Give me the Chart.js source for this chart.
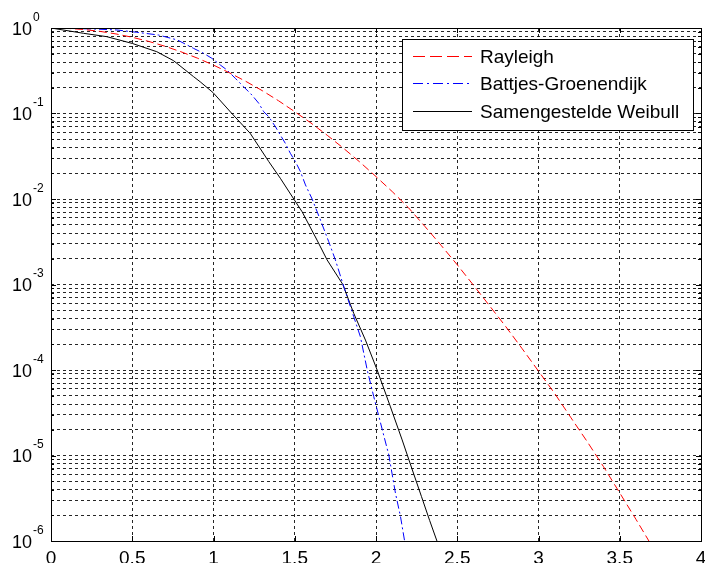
<!DOCTYPE html>
<html><head><meta charset="utf-8">
<script src="https://cdn.jsdelivr.net/npm/chart.js@4.4.0/dist/chart.umd.min.js"></script>
<style>html,body{margin:0;padding:0;background:#fff;overflow:hidden}canvas{display:block}</style>
</head><body>
<canvas id="c" width="705" height="563"></canvas>
<script>
// ---- data ----
const seriesNames = ['Rayleigh', 'Battjes-Groenendijk', 'Samengestelde Weibull'];

const rayleighX = [0,0.1,0.2,0.3,0.4,0.5,0.6,0.7,0.8,0.9,1.0,1.1,1.2,1.3,1.4,1.5,1.6,1.7,1.8,1.9,2.0,2.1,2.2,2.3,2.4,2.5,2.6,2.7,2.8,2.9,3.0,3.1,3.2,3.3,3.4,3.5,3.6,3.7];
const rayleighY = [1,0.990,0.961,0.914,0.852,0.779,0.698,0.613,0.527,0.445,0.368,0.298,0.237,0.185,0.141,0.105,0.0773,0.0556,0.0392,0.0271,0.0183,0.0122,0.0079,0.0048,0.00288,0.0017,0.00098,0.00056,0.000319,0.000177,0.000097,0.000053,0.0000276,0.0000145,0.0000074,0.00000365,0.00000179,0.00000086];

const battjesX = [0,0.27,0.405,0.528,0.661,0.778,0.877,0.939,0.99,1.042,1.083,1.134,1.185,1.237,1.278,1.309,1.34,1.381,1.411,1.442,1.473,1.504,1.535,1.566,1.607,1.658,1.709,1.75,1.802,1.863,1.904,1.946,1.986,2.028,2.079,2.12,2.151,2.176];
const battjesY = [1,0.973,0.948,0.891,0.828,0.724,0.578,0.506,0.442,0.369,0.323,0.258,0.206,0.164,0.132,0.105,0.0918,0.0701,0.0561,0.0448,0.0342,0.0274,0.0209,0.0146,0.01,0.00568,0.00317,0.00194,0.00094,0.00042,0.000245,0.0001,0.000049,0.000024,0.0000101,0.0000036,0.00000192,0.000001];

const weibullX = [0,0.2,0.343,0.5,0.651,0.754,0.877,0.918,0.998,1.113,1.226,1.34,1.411,1.494,1.545,1.637,1.699,1.796,1.863,1.935,2.007,2.089,2.161,2.22,2.28,2.33,2.375];
const weibullY = [1,0.867,0.792,0.66,0.528,0.415,0.27,0.235,0.175,0.1,0.0586,0.0274,0.0175,0.01,0.0071,0.00331,0.00194,0.001,0.00046,0.000224,0.0001,0.000037,0.0000152,0.0000071,0.0000033,0.00000174,0.000001];

const xTickValues = [0,0.5,1,1.5,2,2.5,3,3.5,4];
const xTickLabels = ['0','0.5','1','1.5','2','2.5','3','3.5','4'];
const yDecadeValues = [1,0.1,0.01,0.001,0.0001,0.00001,0.000001];
const yDecadeExponents = ['0','-1','-2','-3','-4','-5','-6'];
const yMinorMultipliers = [2,3,4,5,6,7,8,9];

// ---- build datasets ----
function pts(xs, ys) { return xs.map((x, i) => ({x: x, y: ys[i]})); }

const FONT = "'Liberation Sans', Arial, sans-serif";
const legendDash = [[12,5],[10,4,2,4],[]];

const decor = {
  id: 'decor',
  afterDraw(chart) {
    const ctx = chart.ctx, a = chart.chartArea;
    const xs = chart.scales.x, ys = chart.scales.y;
    ctx.save();
    // box
    ctx.strokeStyle = '#000'; ctx.lineWidth = 1; ctx.setLineDash([]);
    ctx.strokeRect(Math.round(a.left)+0.5, Math.round(a.top)+0.5, Math.round(a.right-a.left), Math.round(a.bottom-a.top));
    // x ticks (inward, bottom & top)
    ctx.beginPath();
    xTickValues.forEach(v => {
      const px = Math.round(xs.getPixelForValue(v)) + 0.5;
      ctx.moveTo(px, a.bottom); ctx.lineTo(px, a.bottom - 5);
      ctx.moveTo(px, a.top); ctx.lineTo(px, a.top + 5);
    });
    // y ticks
    yDecadeValues.forEach(d => {
      const py = Math.round(ys.getPixelForValue(d)) + 0.5;
      ctx.moveTo(a.left, py); ctx.lineTo(a.left + 5, py);
      ctx.moveTo(a.right, py); ctx.lineTo(a.right - 5, py);
      if (d < 1) {
        yMinorMultipliers.forEach(m => {
          const q = Math.round(ys.getPixelForValue(d * m)) + 0.5;
          ctx.moveTo(a.left, q); ctx.lineTo(a.left + 3, q);
          ctx.moveTo(a.right, q); ctx.lineTo(a.right - 3, q);
        });
      }
    });
    ctx.stroke();
    // x labels
    ctx.fillStyle = '#000';
    ctx.font = '19px ' + FONT;
    ctx.textAlign = 'center'; ctx.textBaseline = 'alphabetic';
    xTickValues.forEach((v, i) => {
      ctx.fillText(xTickLabels[i], xs.getPixelForValue(v), 564);
    });
    // y labels 10^n
    yDecadeValues.forEach((d, i) => {
      const py = ys.getPixelForValue(d);
      ctx.font = '18px ' + FONT;
      ctx.textAlign = 'right';
      ctx.fillText('10', 32, py + 6.5);
      ctx.font = '12px ' + FONT;
      ctx.textAlign = 'left';
      ctx.fillText(yDecadeExponents[i], 33, py - 7.5);
    });
    // legend
    const lx = 402, ly = 39, lw = 291, lh = 91;
    ctx.fillStyle = '#fff';
    ctx.fillRect(lx, ly, lw, lh);
    ctx.strokeStyle = '#000'; ctx.lineWidth = 1; ctx.setLineDash([]);
    ctx.strokeRect(lx + 0.5, ly + 0.5, lw, lh);
    const rows = [56.5, 83.5, 111.5];
    chart.data.datasets.forEach((ds, i) => {
      ctx.strokeStyle = ds.borderColor;
      ctx.lineWidth = 1;
      ctx.setLineDash(legendDash[i]);
      ctx.beginPath(); ctx.moveTo(413, rows[i]); ctx.lineTo(472, rows[i]); ctx.stroke();
      ctx.setLineDash([]);
      ctx.fillStyle = '#000';
      ctx.font = '19px ' + FONT;
      ctx.textAlign = 'left'; ctx.textBaseline = 'middle';
      ctx.fillText(ds.label, 480, rows[i] + 1);
    });
    ctx.restore();
  }
};

new Chart(document.getElementById('c'), {
  type: 'scatter',
  data: {
    datasets: [
      {label: seriesNames[0], data: pts(rayleighX, rayleighY), borderColor: '#ff0000', borderDash: [8,4], showLine: true, borderWidth: 1, pointRadius: 0, tension: 0},
      {label: seriesNames[1], data: pts(battjesX, battjesY), borderColor: '#0000ff', borderDash: [8,3,2,3], showLine: true, borderWidth: 1, pointRadius: 0, tension: 0},
      {label: seriesNames[2], data: pts(weibullX, weibullY), borderColor: '#000000', showLine: true, borderWidth: 1, pointRadius: 0, tension: 0}
    ]
  },
  options: {
    responsive: false,
    animation: false,
    devicePixelRatio: 1,
    layout: {padding: {top: 28, right: 4, left: 0, bottom: 0}},
    plugins: {legend: {display: false}, tooltip: {enabled: false}},
    scales: {
      x: {
        type: 'linear', min: 0, max: 4,
        afterBuildTicks: s => { s.ticks = xTickValues.map(v => ({value: v})); },
        afterFit: s => { s.height = 22; },
        ticks: {display: false},
        grid: {color: 'rgba(0,0,0,0.85)', lineWidth: 1, drawTicks: false},
        border: {display: false, dash: [3,3]}
      },
      y: {
        type: 'logarithmic', min: 0.000001, max: 1,
        afterBuildTicks: s => {
          const t = [];
          yDecadeValues.forEach(d => {
            if (d < 1) yMinorMultipliers.forEach(m => t.push({value: d * m}));
            t.push({value: d, major: true});
          });
          s.ticks = t.sort((p, q) => p.value - q.value);
        },
        afterFit: s => { s.width = 51; },
        ticks: {display: false},
        grid: {color: 'rgba(0,0,0,0.85)', lineWidth: 1, drawTicks: false},
        border: {display: false, dash: [3,3]}
      }
    }
  },
  plugins: [decor]
});
</script>
</body></html>
